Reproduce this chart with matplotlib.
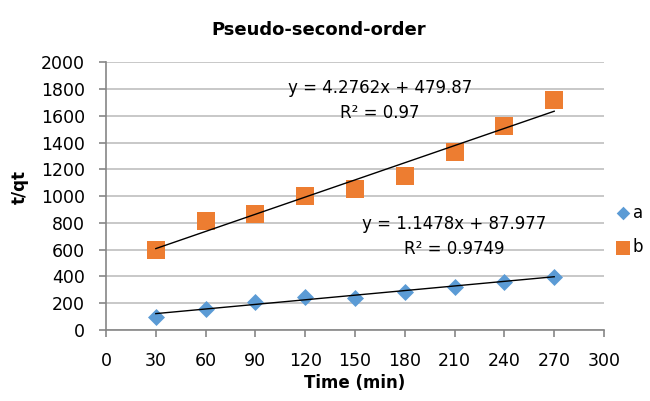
import matplotlib
matplotlib.use("Agg")
import matplotlib.pyplot as plt
import numpy as np

plt.rcParams['font.family'] = ['DejaVu Sans']

time_min = [30, 60, 90, 120, 150, 180, 210, 240, 270]
series_a = [95, 159, 207, 244, 236, 284, 323, 358, 398]
series_b = [600, 815, 865, 1000, 1057, 1147, 1331, 1527, 1716]

fit_a = (1.1478, 87.977, 0.9749)
fit_b = (4.2762, 479.87, 0.97)

x_ticks = [0, 30, 60, 90, 120, 150, 180, 210, 240, 270, 300]
y_ticks = [0, 200, 400, 600, 800, 1000, 1200, 1400, 1600, 1800, 2000]

blue = '#5B9BD5'
orange = '#ED7D31'
axis_grey = '#868686'
grid_grey = '#BFBFBF'

W, H = 650, 401
fig = plt.figure(figsize=(W / 100, H / 100), dpi=100)
ax = fig.add_axes([106 / W, 1 - 330 / H, (604 - 106) / W, (330 - 62.3) / H])

ax.set_xlim(0, 300)
ax.set_ylim(0, 2000)
ax.set_xticks(x_ticks)
ax.set_yticks(y_ticks)
ax.yaxis.grid(True, color=grid_grey, linewidth=1.2)
ax.set_axisbelow(True)

for s in ['top', 'right']:
    ax.spines[s].set_visible(False)
for s in ['left', 'bottom']:
    ax.spines[s].set_color(axis_grey)
    ax.spines[s].set_linewidth(1.2)
ax.tick_params(axis='both', colors=axis_grey, length=5, width=1.2,
               labelcolor='black', labelsize=12.5)
ax.tick_params(axis='x', pad=10.5)
ax.tick_params(axis='y', pad=10)

ax.scatter(time_min, series_a, marker='D', s=75, color=blue, zorder=3,
           label='a', linewidths=0)
ax.scatter(time_min, series_b, marker='s', s=160, color=orange, zorder=3,
           label='b', linewidths=0)

# Linear trendlines from the fitted coefficients
xs = np.array([time_min[0], time_min[-1]])
for slope, icpt, _ in (fit_a, fit_b):
    ax.plot(xs, slope * xs + icpt, color='black', linewidth=1.0, zorder=4)

ax.text(165, 1716, f"y = {fit_b[0]}x + {fit_b[1]}\nR² = {fit_b[2]}",
        ha='center', va='center', fontsize=12, linespacing=1.5)
ax.text(210, 698, f"y = {fit_a[0]}x + {fit_a[1]}\nR² = {fit_a[2]}",
        ha='center', va='center', fontsize=12, linespacing=1.5)

fig.text(319 / W, 1 - 30 / H, 'Pseudo-second-order', fontsize=13,
         fontweight='bold', ha='center', va='center')

ax.set_xlabel('Time (min)', fontsize=12, fontweight='bold')
ax.xaxis.set_label_coords(0.5, (330 - 383) / (330 - 62.3))
ax.xaxis.label.set_va('center')
ax.set_ylabel('t/qt', fontsize=12, fontweight='bold')
ax.yaxis.set_label_coords((20 - 106) / (604 - 106), (330 - 187) / (330 - 62.3))
ax.yaxis.label.set_va('center')

fig.legend(loc='center left', bbox_to_anchor=(606 / W, 1 - 230 / H),
           frameon=False, fontsize=12, handletextpad=0.0,
           labelspacing=1.0, borderaxespad=0, handlelength=1.2,
           markerscale=0.8)

fig.savefig('out.png', dpi=100)
